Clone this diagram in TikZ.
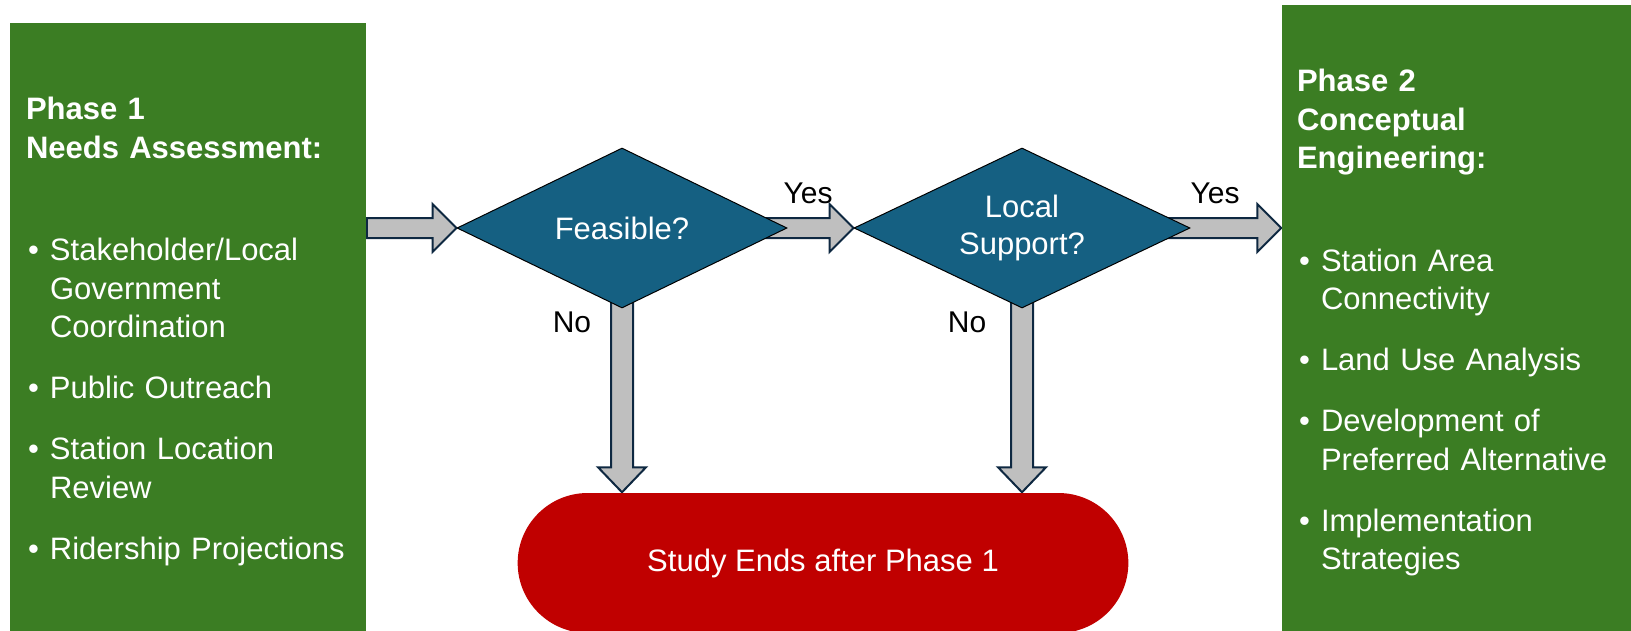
\documentclass[tikz,border=0pt]{standalone}
\usepackage{fontspec}
\setmainfont{Liberation Sans}
\usetikzlibrary{shapes.geometric,shapes.misc,calc,backgrounds}

\definecolor{phasegreen}{RGB}{59,125,35}
\definecolor{decblue}{RGB}{21,96,130}
\definecolor{stopred}{RGB}{192,0,0}
\definecolor{arrowgray}{RGB}{191,191,191}
\definecolor{arrowline}{RGB}{14,40,65}

\tikzset{every picture/.style={line width=0.75pt}}

% bullet line with hanging text
\newcommand{\bul}[1]{\par\hangindent=12pt\hangafter=1\noindent\makebox[12pt][l]{\hspace{1pt}\textbullet}#1\par}
% block arrows, source -> target
\newcommand{\harrow}[2]{%
  \draw[blockarrow] let \p1=(#1), \p2=(#2) in
    (\x1,\y1+5pt) -- (\x2-12pt,\y1+5pt) -- (\x2-12pt,\y1+12pt) -- (\x2,\y1)
    -- (\x2-12pt,\y1-12pt) -- (\x2-12pt,\y1-5pt) -- (\x1,\y1-5pt) -- cycle;}
\newcommand{\varrow}[2]{%
  \draw[blockarrow] let \p1=(#1), \p2=(#2) in
    (\x1-5.5pt,\y1) -- (\x1-5.5pt,\y2+12.5pt) -- (\x1-12pt,\y2+12.5pt) -- (\x1,\y2)
    -- (\x1+12pt,\y2+12.5pt) -- (\x1+5.5pt,\y2+12.5pt) -- (\x1+5.5pt,\y1) -- cycle;}

\begin{document}
\begin{tikzpicture}[x=0.5pt, y=-0.5pt,
    phasebox/.style={rectangle, fill=phasegreen, text=white, align=left, inner ysep=0pt,
      font=\fontsize{15.5pt}{19.25pt}\selectfont},
    decision/.style={diamond, shape aspect=2.1, fill=decblue, draw=black, line width=0.5pt,
      text=white, inner sep=0pt, minimum height=80pt, align=center,
      font=\fontsize{15.5pt}{18.5pt}\selectfont},
    stopbox/.style={rounded rectangle, fill=stopred, text=white, minimum width=312pt,
      minimum height=70pt, font=\fontsize{15.5pt}{18.5pt}\selectfont},
    blockarrow/.style={fill=arrowgray, draw=arrowline, line width=1pt, line join=miter},
    lbl/.style={font=\fontsize{15pt}{18pt}\selectfont, inner sep=0pt}]
    \useasboundingbox (0,0) rectangle (1631,631);

    % phases
    \node[phasebox, minimum width=178pt, minimum height=308.5pt, text width=162pt, inner xsep=8pt]
      (phase1) at (188,331.5) {%
      \textbf{Phase 1\\Needs Assessment:}\par\vspace{32pt}
      \bul{Stakeholder/Local\newline Government\newline Coordination}\vspace{11.25pt}
      \bul{Public Outreach}\vspace{11.25pt}
      \bul{Station Location\newline Review}\vspace{11.25pt}
      \bul{Ridership Projections}};
    \node[phasebox, minimum width=176pt, minimum height=317.5pt, text width=161pt, inner xsep=7.5pt]
      (phase2) at (1458,322.5) {%
      \textbf{Phase 2\\Conceptual\\Engineering:}\par\vspace{32pt}
      \bul{Station Area\newline Connectivity}\vspace{11.25pt}
      \bul{Land Use Analysis}\vspace{11.25pt}
      \bul{Development of\newline Preferred Alternative}\vspace{11.25pt}
      \bul{Implementation\newline Strategies}};

    % decisions and end
    \node[decision, minimum width=165pt] (feas) at (622,228) {Feasible?};
    \node[decision, minimum width=168pt] (supp) at (1022,228) {Local\\Support?};
    \node[stopbox] (stop) at (823,563) {Study Ends after Phase 1};

    \begin{scope}[on background layer]
        \harrow{phase1.east |- feas}{feas.west}
        \harrow{feas}{supp.west}
        \harrow{supp}{supp -| phase2.west}
        \varrow{feas}{feas |- stop.north}
        \varrow{supp}{supp |- stop.north}
    \end{scope}

    \node[lbl] (yes1) at (808,193) {Yes};
    \node[lbl] (yes2) at (1215,193) {Yes};
    \node[lbl] (no1) at (572,322) {No};
    \node[lbl] (no2) at (967,322) {No};
\end{tikzpicture}
\end{document}
